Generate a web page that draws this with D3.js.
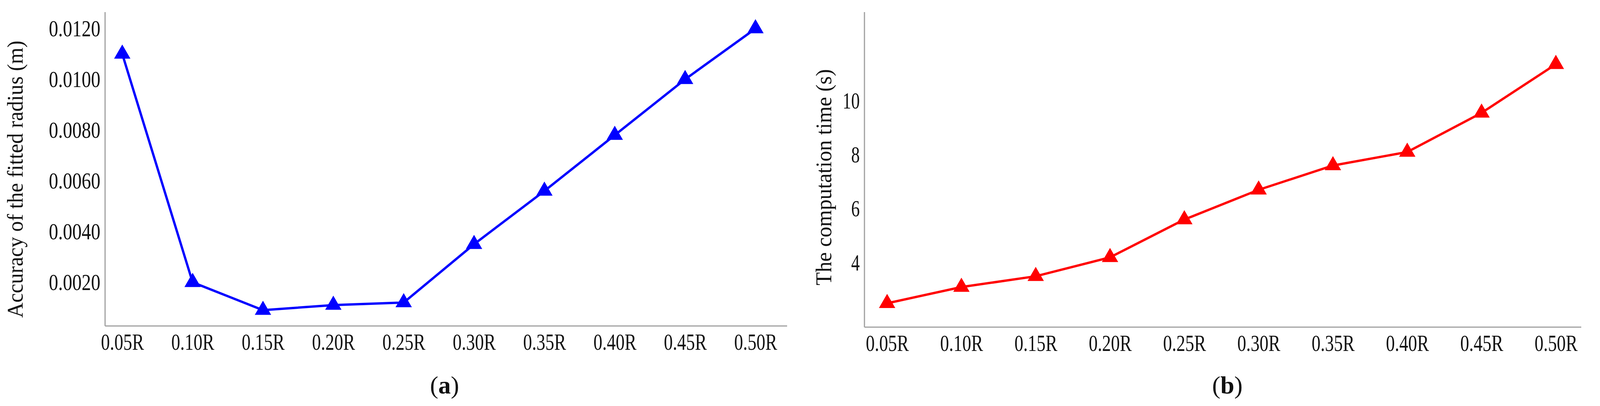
<!DOCTYPE html>
<html>
<head>
<meta charset="utf-8">
<script src="https://cdn.jsdelivr.net/npm/d3@7"></script>
<style>
  body { margin: 0; background: #fff; overflow: hidden; }
  text { font-family: "Liberation Serif", "Times New Roman", serif; }
</style>
</head>
<body>
<svg id="chart" width="4175" height="1040"></svg>
<script>
const categories = ["0.05R", "0.10R", "0.15R", "0.20R", "0.25R", "0.30R", "0.35R", "0.40R", "0.45R", "0.50R"];
const accuracy = [0.0110, 0.0020, 0.0009, 0.0011, 0.0012, 0.0035, 0.0056, 0.0078, 0.0100, 0.0120];
const compTime = [2.5, 3.1, 3.5, 4.2, 5.6, 6.7, 7.6, 8.1, 9.55, 11.35];
const accTicks = [0.002, 0.004, 0.006, 0.008, 0.010, 0.012];
const timeTicks = [4, 6, 8, 10];

const svg = d3.select("#chart");

function panel(opt) {
  const g = svg.append("g");
  const x = d3.scalePoint().domain(categories).range([opt.x0, opt.x1]);
  const y = d3.scaleLinear().domain(opt.domain).range([opt.yb, 31]);

  // axes
  const ya = g.append("g")
    .attr("transform", `translate(${opt.ax},0)`)
    .call(d3.axisLeft(y).tickValues(opt.ticks).tickSize(0).tickPadding(12).tickFormat(opt.fmt));
  const xa = g.append("g")
    .attr("transform", `translate(0,${opt.yb})`)
    .call(d3.axisBottom(x).tickSize(0).tickPadding(18));
  [ya, xa].forEach(a => {
    a.select(".domain").attr("stroke", "#a0a0a0").attr("stroke-width", 3);
    a.selectAll("text")
      .style("font-family", "Liberation Serif").style("font-size", "60px").attr("fill", "#111")
      .attr("lengthAdjust", "spacingAndGlyphs")
      .attr("textLength", function () { return this.textContent.length * 22; });
  });
  xa.select(".domain").attr("d", `M${opt.ax},0H${opt.xe}`);
  ya.select(".domain").attr("d", `M0,31V${opt.yb}`);

  // y title
  g.append("text")
    .attr("transform", `translate(${opt.tx},${opt.ty}) rotate(-90)`)
    .attr("text-anchor", "middle")
    .attr("textLength", opt.tlen).attr("lengthAdjust", "spacingAndGlyphs")
    .style("font-size", "58px").attr("fill", "#111")
    .text(opt.title);

  // line + markers
  const line = d3.line().x((d, i) => x(categories[i])).y(d => y(d));
  g.append("path").datum(opt.values)
    .attr("fill", "none").attr("stroke", opt.color).attr("stroke-width", 6)
    .attr("d", line);
  g.selectAll(".m").data(opt.values).join("path")
    .attr("transform", (d, i) => `translate(${x(categories[i])},${y(d)})`)
    .attr("d", d3.symbol(d3.symbolTriangle, 760))
    .attr("fill", opt.color);

  // caption
  const cap = g.append("text").attr("x", opt.cx).attr("y", 1008)
    .attr("text-anchor", "middle").style("font-size", "64px").attr("fill", "#111");
  cap.append("tspan").text("(");
  cap.append("tspan").attr("font-weight", "bold").text(opt.letter);
  cap.append("tspan").text(")");
}

panel({
  x0: 313, x1: 1934, ax: 269, xe: 2015, yb: 835,
  domain: [0.000277, 0.01265], ticks: accTicks, fmt: d3.format(".4f"),
  values: accuracy, color: "#0000ff",
  title: "Accuracy of the fitted radius (m)", tx: 58, ty: 459, tlen: 710,
  cx: 1138, letter: "a"
});
panel({
  x0: 2271, x1: 3983, ax: 2213, xe: 4048, yb: 838,
  domain: [1.616, 13.28], ticks: timeTicks, fmt: d3.format("d"),
  values: compTime, color: "#ff0000",
  title: "The computation time (s)", tx: 2128, ty: 454, tlen: 554,
  cx: 3142, letter: "b"
});
</script>
</body>
</html>
